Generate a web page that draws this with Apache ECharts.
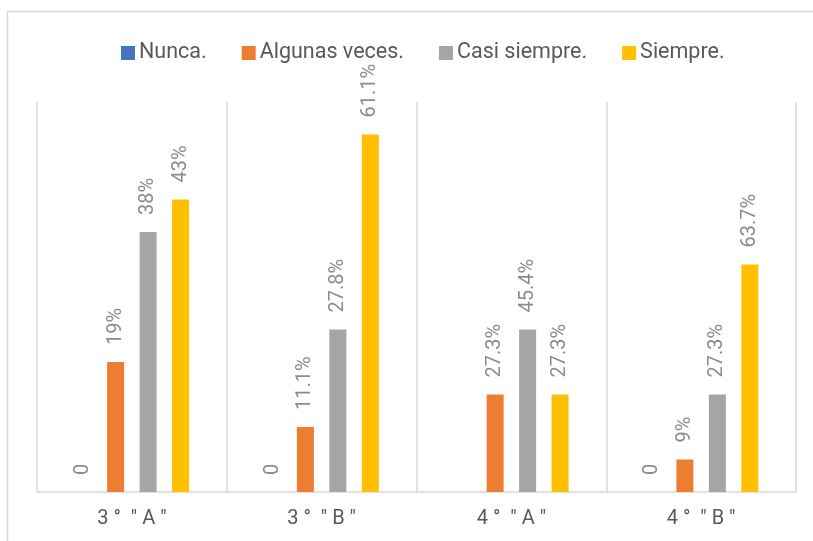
<!DOCTYPE html>
<html>
<head>
<meta charset="utf-8">
<script src="https://cdn.jsdelivr.net/npm/echarts@6/dist/echarts.min.js"></script>
<style>html,body{margin:0;padding:0;background:#fff;}#c{width:813px;height:541px;}</style>
</head>
<body>
<div id="c"></div>
<script>
var categories = ['3 °  " A "', '3 °  " B "', '4 °  " A "', '4 °  " B "'];
var seriesNames = ['Nunca.', 'Algunas veces.', 'Casi siempre.', 'Siempre.'];
var nunca = [0, 0, 0, 0];
var algunas = [4, 2, 3, 1];
var casi = [8, 5, 5, 3];
var siempre = [9, 11, 3, 7];
var nuncaLabels = ['0', '0', '', '0'];
var algunasLabels = ['19%', '11.1%', '27.3%', '9%'];
var casiLabels = ['38%', '27.8%', '45.4%', '27.3%'];
var siempreLabels = ['43%', '61.1%', '27.3%', '63.7%'];
var colors = ['#4472C4', '#ED7D31', '#A5A5A5', '#FFC000'];

var FONT = 'Roboto, "Liberation Sans", sans-serif';
var chart = echarts.init(document.getElementById('c'));
function mk(name, data, labels, color) {
  return {
    name: name, type: 'bar', data: data, barWidth: 17, barGap: '91%',
    itemStyle: { color: color },
    label: {
      show: true, position: 'top', rotate: 90, align: 'left', verticalAlign: 'middle',
      distance: 17, color: '#8c8c8c', fontSize: 20, fontFamily: FONT,
      formatter: function (p) { return labels[p.dataIndex]; }
    }
  };
}
chart.setOption({
  animation: false,
  graphic: [{ type: 'rect', shape: { x: 7.5, y: 11.5, width: 900, height: 600 }, style: { fill: 'none', stroke: '#d9d9d9', lineWidth: 1.5 } }],
  legend: {
    left: 116, top: 37, itemWidth: 14, itemHeight: 14, itemGap: 35, icon: 'rect',
    textStyle: { color: '#595959', fontSize: 21.5, fontFamily: FONT, padding: [0, 0, 0, -1] },
    data: seriesNames
  },
  grid: { left: 37, right: 17, top: 102, bottom: 49, containLabel: false },
  xAxis: {
    type: 'category', data: categories,
    axisLine: { lineStyle: { color: '#d9d9d9', width: 1.5 } },
    axisTick: { show: false },
    splitLine: { show: true, lineStyle: { color: '#d9d9d9', width: 1.5 } },
    axisLabel: { color: '#595959', fontSize: 20, fontFamily: FONT, margin: 17 }
  },
  yAxis: {
    type: 'value', min: 0, max: 12, interval: 1,
    axisLabel: { show: false }, axisLine: { show: false }, axisTick: { show: false },
    splitLine: { show: false }
  },
  series: [
    mk(seriesNames[0], nunca, nuncaLabels, colors[0]),
    mk(seriesNames[1], algunas, algunasLabels, colors[1]),
    mk(seriesNames[2], casi, casiLabels, colors[2]),
    mk(seriesNames[3], siempre, siempreLabels, colors[3])
  ]
});
</script>
</body>
</html>
